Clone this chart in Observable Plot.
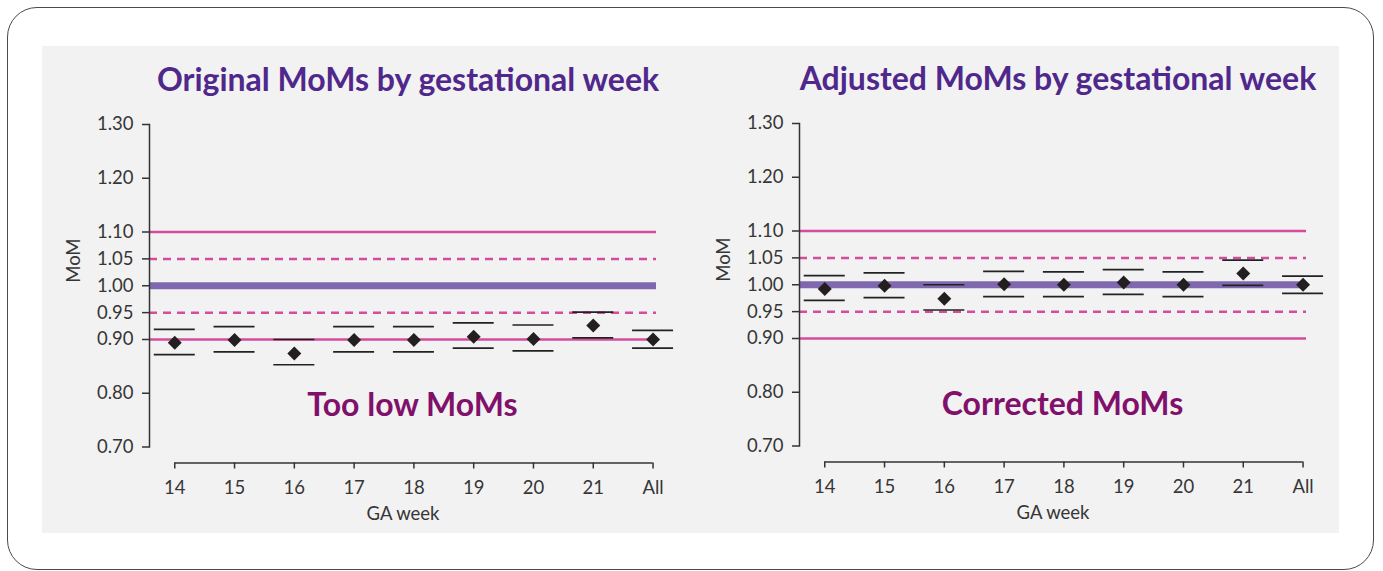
<!DOCTYPE html>
<html>
<head>
<meta charset="utf-8">
<script src="https://cdn.jsdelivr.net/npm/d3@7"></script>
<script src="https://cdn.jsdelivr.net/npm/@observablehq/plot@0.6"></script>
<style>
  html, body { margin: 0; padding: 0; background: #ffffff; }
  #wrap { position: relative; width: 1383px; height: 571px; overflow: hidden; font-family: Lato, "Open Sans", sans-serif; }
  #border { position: absolute; left: 7px; top: 7px; width: 1367px; height: 563px; box-sizing: border-box; border: 1px solid #4a4a4a; border-radius: 30px; }
  #panel { position: absolute; left: 42px; top: 46px; width: 1297px; height: 487px; background: #f2f2f2; }
  .chart { position: absolute; }
</style>
</head>
<body>
<div id="wrap">
  <div id="border"></div>
  <div id="panel"></div>
  <div id="left" class="chart" style="left:0px; top:0px;"></div>
  <div id="right" class="chart" style="left:650px; top:-1px;"></div>
</div>
<script>
// ---- data ----
const categories = ["14", "15", "16", "17", "18", "19", "20", "21", "All"];
const yTicks = [0.70, 0.80, 0.90, 0.95, 1.00, 1.05, 1.10, 1.20, 1.30];
const limitSolid = [0.90, 1.10];
const limitDashed = [0.95, 1.05];
const target = [1.00];

const originalMid  = [0.894, 0.899, 0.874, 0.899, 0.899, 0.905, 0.901, 0.926, 0.900];
const originalLow  = [0.872, 0.877, 0.853, 0.877, 0.877, 0.884, 0.879, 0.903, 0.884];
const originalHigh = [0.919, 0.924, 0.900, 0.924, 0.924, 0.931, 0.927, 0.951, 0.917];

const adjustedMid  = [0.992, 0.998, 0.974, 1.001, 1.000, 1.004, 1.000, 1.021, 1.000];
const adjustedLow  = [0.971, 0.976, 0.953, 0.978, 0.978, 0.982, 0.978, 0.999, 0.984];
const adjustedHigh = [1.017, 1.022, 1.000, 1.025, 1.024, 1.028, 1.024, 1.046, 1.016];

const titles = ["Original MoMs by gestational week", "Adjusted MoMs by gestational week"];
const notes = ["Too low MoMs", "Corrected MoMs"];
const xLabel = "GA week";
const yLabel = "MoM";

const font = "Lato, 'Open Sans', sans-serif";

// ---- chart ----
function chart(mid, low, high, title, note) {
  const rows = categories.map((c, i) => ({cat: c, mid: mid[i], low: low[i], high: high[i]}));
  return Plot.plot({
    width: 690,
    height: 540,
    marginLeft: 149,
    marginRight: 34,
    marginTop: 124,
    marginBottom: 93.5,
    style: {background: "transparent", fontFamily: font, fontSize: "18.5px", color: "#363636", overflow: "visible"},
    x: {type: "point", domain: categories, padding: 0.24, align: 0.88, round: false},
    y: {domain: [yTicks[0], yTicks[yTicks.length - 1]]},
    marks: [
      Plot.ruleY(limitSolid, {stroke: "#d44c9c", strokeWidth: 2.5}),
      Plot.ruleY(limitDashed, {stroke: "#d44c9c", strokeWidth: 2.5, strokeDasharray: "8,6"}),
      Plot.ruleY(target, {stroke: "#7f68ae", strokeWidth: 7}),
      Plot.ruleY(rows, {x1: "cat", x2: "cat", y: "high", stroke: "#222222", strokeWidth: 1.7, insetLeft: -20.5, insetRight: -20.5}),
      Plot.ruleY(rows, {x1: "cat", x2: "cat", y: "low", stroke: "#222222", strokeWidth: 1.7, insetLeft: -20.5, insetRight: -20.5}),
      Plot.dot(rows, {x: "cat", y: "mid", symbol: "diamond2", r: 6.3, fill: "#231f20", stroke: "none"}),
      Plot.frame({anchor: "left", stroke: "#333333", strokeWidth: 1.5}),
      Plot.axisY({ticks: yTicks, tickFormat: d3.format(".2f"), tickSize: 7, tickPadding: 9, label: null, stroke: "#333333", strokeWidth: 1.5, fill: "#363636"}),
      Plot.ruleY([yTicks[0]], {x1: () => categories[0], x2: () => categories[categories.length - 1], dy: 16, stroke: "#333333", strokeWidth: 1.5}),
      Plot.axisX({tickSize: 6, tickPadding: 11.5, dy: 16, label: null, stroke: "#333333", strokeWidth: 1.5, fill: "#363636"}),
      Plot.text([yLabel], {frameAnchor: "left", lineAnchor: "middle", dx: -75, dy: -3, rotate: -90, fontSize: 18.5, fill: "#363636"}),
      Plot.text([xLabel], {frameAnchor: "bottom", lineAnchor: "middle", dy: 67, fontSize: 18.5, fill: "#363636"}),
      Plot.text([title], {frameAnchor: "top", lineAnchor: "middle", dy: -43.5, dx: 5, fontSize: 32, fontWeight: 700, fill: "#50288c"}),
      Plot.text([note], {frameAnchor: "bottom", lineAnchor: "middle", dy: -41, dx: 9.5, fontSize: 32, fontWeight: 700, fill: "#80106a"})
    ]
  });
}

document.getElementById("left").append(chart(originalMid, originalLow, originalHigh, titles[0], notes[0]));
document.getElementById("right").append(chart(adjustedMid, adjustedLow, adjustedHigh, titles[1], notes[1]));
</script>
</body>
</html>
